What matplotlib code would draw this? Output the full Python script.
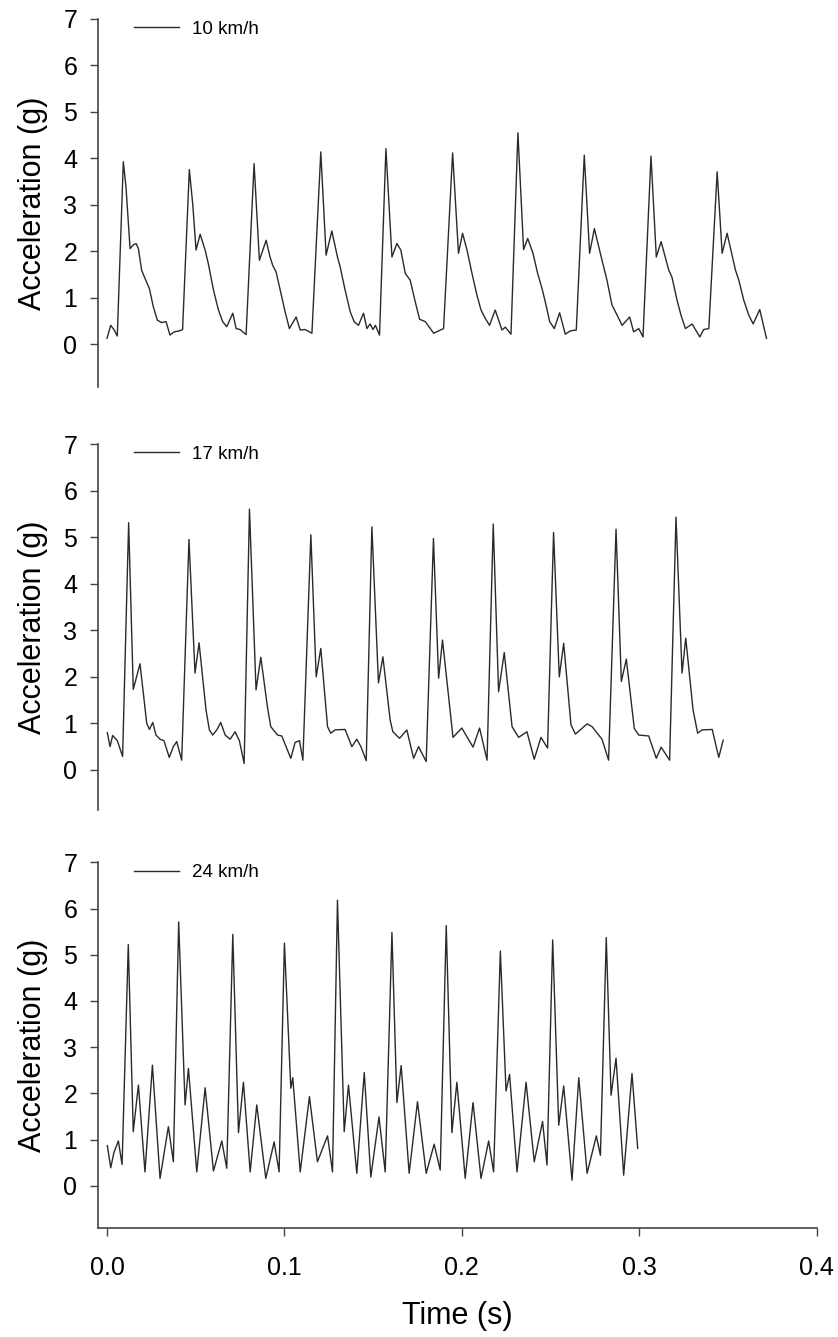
import matplotlib.pyplot as plt

# acceleration traces (time in s, acceleration in g)
t10 = [0.0000, 0.0021, 0.0039, 0.0058, 0.0092, 0.0107, 0.0130, 0.0148, 0.0164, 0.0177, 0.0195, 0.0214, 0.0239, 0.0261, 0.0284, 0.0308, 0.0333, 0.0355, 0.0378, 0.0408, 0.0426,
       0.0464, 0.0483, 0.0502, 0.0525, 0.0553, 0.0571, 0.0600, 0.0628, 0.0652, 0.0675, 0.0709, 0.0728, 0.0750, 0.0784,
       0.0829, 0.0859, 0.0897, 0.0919, 0.0934, 0.0953, 0.0976, 0.1004, 0.1028, 0.1066, 0.1089, 0.1117, 0.1155,
       0.1205, 0.1235, 0.1267, 0.1299, 0.1314, 0.1342, 0.1371, 0.1393, 0.1417, 0.1446, 0.1465, 0.1483, 0.1499, 0.1513, 0.1536,
       0.1572, 0.1606, 0.1634, 0.1656, 0.1681, 0.1709, 0.1737, 0.1762, 0.1794, 0.1841, 0.1869, 0.1897,
       0.1948, 0.1981, 0.2004, 0.2029, 0.2057, 0.2085, 0.2108, 0.2132, 0.2156, 0.2188, 0.2226, 0.2245, 0.2277,
       0.2316, 0.2348, 0.2371, 0.2401, 0.2427, 0.2452, 0.2470, 0.2495, 0.2521, 0.2551, 0.2583, 0.2611, 0.2645,
       0.2690, 0.2720, 0.2747, 0.2790, 0.2818, 0.2846, 0.2875, 0.2903, 0.2946, 0.2968, 0.2997, 0.3021,
       0.3066, 0.3096, 0.3123, 0.3166, 0.3184, 0.3213, 0.3235, 0.3260, 0.3298, 0.3341, 0.3363, 0.3392,
       0.3439, 0.3467, 0.3495, 0.3542, 0.3561, 0.3589, 0.3617, 0.3642, 0.3679, 0.3717]
a10 = [0.13, 0.41, 0.32, 0.18, 3.93, 3.39, 2.06, 2.14, 2.17, 2.06, 1.60, 1.42, 1.20, 0.81, 0.52, 0.47, 0.49, 0.20, 0.27, 0.29, 0.32,
       3.76, 3.03, 2.03, 2.37, 2.03, 1.74, 1.17, 0.74, 0.49, 0.38, 0.67, 0.34, 0.32, 0.21,
       3.89, 1.81, 2.24, 1.88, 1.70, 1.56, 1.17, 0.70, 0.34, 0.59, 0.31, 0.32, 0.24,
       4.14, 1.92, 2.44, 1.88, 1.67, 1.17, 0.70, 0.49, 0.41, 0.67, 0.34, 0.44, 0.32, 0.41, 0.20,
       4.21, 1.88, 2.17, 2.03, 1.53, 1.38, 0.92, 0.54, 0.49, 0.24, 0.29, 0.34,
       4.12, 1.96, 2.39, 2.03, 1.53, 1.06, 0.74, 0.56, 0.41, 0.74, 0.31, 0.37, 0.22,
       4.55, 2.04, 2.28, 1.96, 1.53, 1.20, 0.92, 0.49, 0.34, 0.68, 0.22, 0.29, 0.31,
       4.07, 1.96, 2.49, 1.81, 1.38, 0.85, 0.63, 0.41, 0.59, 0.27, 0.34, 0.16,
       4.05, 1.88, 2.21, 1.60, 1.45, 0.95, 0.63, 0.34, 0.44, 0.16, 0.32, 0.34,
       3.71, 1.96, 2.39, 1.60, 1.38, 0.95, 0.63, 0.44, 0.75, 0.13]

t17 = [0.0002, 0.0017, 0.0032, 0.0058, 0.0088, 0.0122, 0.0148, 0.0186, 0.0224, 0.0239, 0.0258, 0.0276, 0.0299, 0.0321, 0.0351, 0.0374, 0.0393, 0.0421,
       0.0462, 0.0496, 0.0519, 0.0558, 0.0577, 0.0596, 0.0619, 0.0641, 0.0666, 0.0694, 0.0722, 0.0746, 0.0773,
       0.0803, 0.0840, 0.0867, 0.0904, 0.0923, 0.0961, 0.0985, 0.1036, 0.1060, 0.1085, 0.1104,
       0.1149, 0.1179, 0.1205, 0.1243, 0.1261, 0.1286, 0.1342, 0.1380, 0.1408, 0.1431, 0.1461,
       0.1493, 0.1530, 0.1555, 0.1596, 0.1611, 0.1649, 0.1690, 0.1728, 0.1756, 0.1799,
       0.1840, 0.1869, 0.1891, 0.1950, 0.2000, 0.2063, 0.2100, 0.2142,
       0.2177, 0.2207, 0.2239, 0.2283, 0.2320, 0.2367, 0.2408, 0.2446, 0.2483,
       0.2517, 0.2549, 0.2574, 0.2615, 0.2640, 0.2706, 0.2734, 0.2790, 0.2827,
       0.2869, 0.2899, 0.2927, 0.2972, 0.2997, 0.3053, 0.3096, 0.3123, 0.3171,
       0.3207, 0.3241, 0.3262, 0.3303, 0.3329, 0.3354, 0.3411, 0.3448, 0.3473]
a17 = [0.80, 0.50, 0.74, 0.63, 0.29, 5.31, 1.73, 2.28, 1.00, 0.87, 1.02, 0.75, 0.66, 0.63, 0.27, 0.50, 0.61, 0.21,
       4.95, 2.08, 2.73, 1.29, 0.86, 0.75, 0.86, 1.02, 0.75, 0.66, 0.82, 0.63, 0.14,
       5.60, 1.72, 2.42, 1.36, 0.93, 0.75, 0.73, 0.25, 0.59, 0.63, 0.21,
       5.05, 2.00, 2.61, 0.93, 0.79, 0.86, 0.87, 0.50, 0.66, 0.50, 0.20,
       5.22, 1.87, 2.43, 1.07, 0.82, 0.68, 0.86, 0.25, 0.50, 0.18,
       4.97, 1.97, 2.79, 0.70, 0.90, 0.49, 0.90, 0.21,
       5.28, 1.68, 2.52, 0.93, 0.70, 0.82, 0.23, 0.70, 0.47,
       5.10, 2.00, 2.72, 0.97, 0.77, 0.99, 0.93, 0.66, 0.21,
       5.17, 1.90, 2.38, 0.89, 0.75, 0.73, 0.25, 0.49, 0.21,
       5.43, 2.08, 2.83, 1.29, 0.79, 0.86, 0.87, 0.27, 0.64]

t24 = [0.0002, 0.0021, 0.0039, 0.0064, 0.0085, 0.0120, 0.0148, 0.0177, 0.0214, 0.0256, 0.0299, 0.0346, 0.0374,
       0.0404, 0.0440, 0.0459, 0.0506, 0.0553, 0.0600, 0.0647, 0.0675,
       0.0709, 0.0741, 0.0769, 0.0807, 0.0844, 0.0895, 0.0942, 0.0970,
       0.1000, 0.1036, 0.1047, 0.1089, 0.1141, 0.1186, 0.1243, 0.1271,
       0.1299, 0.1337, 0.1361, 0.1408, 0.1450, 0.1487, 0.1533, 0.1568,
       0.1606, 0.1634, 0.1658, 0.1703, 0.1750, 0.1799, 0.1844, 0.1878,
       0.1912, 0.1944, 0.1972, 0.2019, 0.2063, 0.2108, 0.2151, 0.2179,
       0.2217, 0.2249, 0.2269, 0.2311, 0.2362, 0.2408, 0.2455, 0.2480,
       0.2512, 0.2546, 0.2574, 0.2621, 0.2659, 0.2706, 0.2758, 0.2781,
       0.2814, 0.2841, 0.2869, 0.2912, 0.2959, 0.2991]
a24 = [0.87, 0.39, 0.72, 0.97, 0.46, 5.22, 1.17, 2.18, 0.30, 2.61, 0.16, 1.28, 0.52,
       5.71, 1.75, 2.54, 0.30, 2.12, 0.32, 0.97, 0.38,
       5.44, 1.15, 2.24, 0.30, 1.75, 0.16, 0.95, 0.30,
       5.25, 2.11, 2.34, 0.30, 1.93, 0.52, 1.08, 0.30,
       6.18, 1.17, 2.18, 0.27, 2.45, 0.19, 1.49, 0.30,
       5.48, 1.80, 2.60, 0.27, 1.82, 0.27, 0.90, 0.34,
       5.63, 1.15, 2.24, 0.16, 1.80, 0.16, 0.97, 0.30,
       5.08, 2.05, 2.41, 0.30, 2.24, 0.52, 1.39, 0.45,
       5.32, 1.31, 2.16, 0.12, 2.34, 0.27, 1.08, 0.66,
       5.37, 1.96, 2.76, 0.23, 2.43, 0.81]

speeds = ["10 km/h", "17 km/h", "24 km/h"]
x_ticks = [0.0, 0.1, 0.2, 0.3, 0.4]

plt.rcParams['font.family'] = ['Liberation Sans', 'DejaVu Sans']

W, H = 838, 1337
fig = plt.figure(figsize=(W / 100, H / 100), dpi=100)

# panel frames in pixels: (y of "7", y of spine bottom)
frames = [(19, 386.7), (444, 810), (862.3, 1228.3)]
ylow = [-0.91, -0.86, -0.92]
left_px, right_px = 98, 816.7

spine_col = '#444444'
for i, (t, a, lab) in enumerate(zip([t10, t17, t24], [a10, a17, a24], speeds)):
    top_px, bot_px = frames[i]
    ax = fig.add_axes([left_px / W, 1 - bot_px / H,
                       (right_px - left_px) / W, (bot_px - top_px) / H])
    ax.plot(t, a, color='#2a2a2a', lw=1.0, label=lab)
    ax.set_xlim(-0.00507, 0.4)
    ax.set_ylim(ylow[i], 7)
    ax.set_yticks(range(8))
    ax.spines['top'].set_visible(False)
    ax.spines['right'].set_visible(False)
    ax.spines['left'].set_color(spine_col)
    ax.spines['left'].set_linewidth(1.2)
    ax.tick_params(axis='y', direction='out', length=6, width=1.0, color=spine_col,
                   labelsize=18, pad=9)
    ax.set_ylabel("Acceleration (g)", fontsize=22, labelpad=11)
    ax.legend(loc='upper left', bbox_to_anchor=(0.05, 0.995), frameon=False,
              fontsize=13.5, handlelength=2.4, handletextpad=0.7,
              borderpad=0, borderaxespad=0)
    if i < 2:
        ax.spines['bottom'].set_visible(False)
        ax.set_xticks([])
    else:
        ax.spines['bottom'].set_color(spine_col)
        ax.spines['bottom'].set_linewidth(1.2)
        ax.set_xticks(x_ticks)
        ax.set_xticklabels(["%.1f" % v for v in x_ticks])
        ax.tick_params(axis='x', direction='out', length=6, width=1.0, color=spine_col,
                       labelsize=18, pad=14)
        ax.set_xlabel("Time (s)", fontsize=22, labelpad=15)

fig.savefig('out.png', dpi=100)
